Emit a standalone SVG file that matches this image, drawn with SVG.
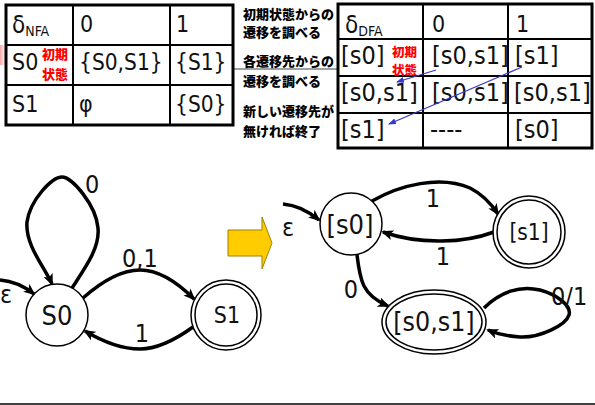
<svg xmlns="http://www.w3.org/2000/svg" width="595" height="405" viewBox="0 0 595 405">
<style>
.t{font-family:"DejaVu Sans Condensed","DejaVu Sans",sans-serif;font-stretch:condensed;fill:#111}
.jp{font-family:"Noto Sans CJK JP",sans-serif;font-weight:900;font-size:13px;fill:#000}
.red{font-family:"Noto Sans CJK JP",sans-serif;font-weight:900;fill:#ff0000}
.frame{fill:none;stroke:#000;stroke-width:3}
.grid{stroke:#000;stroke-width:2}
.node{fill:#fff;stroke:#000;stroke-width:1.5}
.edge{fill:none;stroke:#000;stroke-width:3.5;marker-end:url(#ah)}
.blue{fill:none;stroke:#3838cc;stroke-width:1.2;marker-end:url(#bh)}
</style>
<defs>
<marker id="ah" viewBox="0 0 12 10" refX="10" refY="5" markerWidth="12" markerHeight="10" markerUnits="userSpaceOnUse" orient="auto">
<path d="M0,0 L12,5 L0,10 L3,5 z" fill="#000"/>
</marker>
<marker id="bh" viewBox="0 0 8 6" refX="7" refY="3" markerWidth="8" markerHeight="6" markerUnits="userSpaceOnUse" orient="auto">
<path d="M0,0 L8,3 L0,6 z" fill="#3838cc"/>
</marker>
<linearGradient id="pink" x1="0" y1="0" x2="1" y2="0">
<stop offset="0" stop-color="#f4a4a4"/>
<stop offset="1" stop-color="#ffffff" stop-opacity="0"/>
</linearGradient>
</defs>
<rect width="595" height="405" fill="#fff"/>
<rect x="0" y="45" width="9" height="20" fill="url(#pink)"/>
<line x1="233" y1="69" x2="338" y2="69" stroke="#a0a0a0" stroke-width="2"/>

<g id="nfa-table">
<line class="grid" x1="73" y1="5" x2="73" y2="125"/>
<line class="grid" x1="170" y1="5" x2="170" y2="125"/>
<line class="grid" x1="6" y1="45" x2="233" y2="45"/>
<line class="grid" x1="6" y1="85" x2="233" y2="85"/>
<rect class="frame" x="6" y="5" width="227" height="120"/>
<text class="t" x="12" y="33" font-size="24">δ<tspan font-size="14" dy="3">NFA</tspan></text>
<text class="t" x="80" y="32" font-size="23">0</text>
<text class="t" x="176" y="32" font-size="23">1</text>
<text class="t" x="12" y="70" font-size="23">S0</text>
<text class="red" x="42" y="59" font-size="13">初期</text>
<text class="red" x="42" y="79" font-size="13">状態</text>
<text class="t" x="79" y="70" font-size="22.5">{S0,S1}</text>
<text class="t" x="175" y="70" font-size="22.5">{S1}</text>
<text class="t" x="12" y="112" font-size="23">S1</text>
<text class="t" x="79" y="112" font-size="23">φ</text>
<text class="t" x="175" y="112" font-size="22.5">{S0}</text>
</g>

<g id="notes">
<text class="jp" x="243" y="19">初期状態からの</text>
<text class="jp" x="243" y="37">遷移を調べる</text>
<text class="jp" x="243" y="66">各遷移先からの</text>
<text class="jp" x="243" y="86">遷移を調べる</text>
<text class="jp" x="243" y="116">新しい遷移先が</text>
<text class="jp" x="243" y="136">無ければ終了</text>
</g>

<g id="dfa-table">
<line class="grid" x1="423" y1="4" x2="423" y2="148"/>
<line class="grid" x1="508" y1="4" x2="508" y2="148"/>
<line class="grid" x1="338" y1="39" x2="592" y2="39"/>
<line class="grid" x1="338" y1="76" x2="592" y2="76"/>
<line class="grid" x1="338" y1="113" x2="592" y2="113"/>
<rect class="frame" x="338" y="4" width="254" height="144"/>
<text class="t" x="345" y="33" font-size="24">δ<tspan font-size="14" dy="3">DFA</tspan></text>
<text class="t" x="432" y="32" font-size="23">0</text>
<text class="t" x="516" y="32" font-size="23">1</text>
<text class="t" x="341" y="64" font-size="25">[s0]</text>
<text class="red" x="392" y="57" font-size="12.5">初期</text>
<text class="red" x="392" y="75" font-size="12.5">状態</text>
<text class="t" x="432" y="64" font-size="25">[s0,s1]</text>
<text class="t" x="515" y="64" font-size="25">[s1]</text>
<text class="t" x="341" y="101" font-size="25">[s0,s1]</text>
<text class="t" x="432" y="101" font-size="25">[s0,s1]</text>
<text class="t" x="514" y="101" font-size="25">[s0,s1]</text>
<text class="t" x="341" y="138" font-size="25">[s1]</text>
<text class="t" x="430" y="138" font-size="25">----</text>
<text class="t" x="515" y="138" font-size="25">[s0]</text>
<path class="blue" d="M436,70 L397,82"/>
<path class="blue" d="M522,67 L389,124"/>
</g>

<g id="convert-arrow">
<polygon points="228,230 262,230 262,217 272,243 262,269 262,256 228,256" fill="#ffcc00" stroke="#a08000" stroke-width="1"/>
</g>

<g id="connectors">
<path class="edge" d="M0,280 C12,281 24,286 34,294"/>
<path class="edge" d="M72,288 C85,268 100,248 98,228 C96,205 72,177 62,177 C52,177 30,200 27,222 C25,245 45,268 52,284"/>
<path class="edge" d="M83,298 C100,283 120,270 140,270 C160,270 180,285 194,299"/>
<path class="edge" d="M193,327 C175,340 158,349 140,349 C120,349 100,340 85,331"/>
<path class="edge" d="M283,204 C295,205 307,210 319,220"/>
<path class="edge" d="M372,201 C400,185 440,175 470,188 C482,194 490,202 498,214"/>
<path class="edge" d="M494,232 C465,243 420,245 383,232"/>
<path class="edge" d="M357,255 C360,280 362,295 388,306"/>
<path class="edge" d="M484,308 C500,292 520,285 540,290 C555,294 572,305 569,315 C566,325 540,338 520,337 C505,336 495,333 488,330"/>
<text class="t" x="0" y="303" font-size="25">ε</text>
<text class="t" x="85" y="193" font-size="25">0</text>
<text class="t" x="122" y="267" font-size="25">0,1</text>
<text class="t" x="142" y="342" font-size="25" text-anchor="middle">1</text>
<text class="t" x="282" y="236" font-size="25">ε</text>
<text class="t" x="433" y="207" font-size="25" text-anchor="middle">1</text>
<text class="t" x="443" y="265" font-size="25" text-anchor="middle">1</text>
<text class="t" x="351" y="298" font-size="25" text-anchor="middle">0</text>
<text class="t" x="551" y="305" font-size="25">0/1</text>
</g>

<g id="nfa-S0">
<circle class="node" cx="57" cy="315" r="31"/>
<text class="t" x="57" y="325" font-size="27" text-anchor="middle">S0</text>
</g>
<g id="nfa-S1">
<circle class="node" cx="226" cy="315" r="35"/>
<circle class="node" cx="226" cy="315" r="31"/>
<text class="t" x="227" y="323" font-size="23" text-anchor="middle">S1</text>
</g>
<g id="dfa-s0">
<circle class="node" cx="351" cy="224" r="31"/>
<text class="t" x="350" y="234" font-size="27" text-anchor="middle">[s0]</text>
</g>
<g id="dfa-s1">
<circle class="node" cx="529" cy="232" r="36"/>
<circle class="node" cx="529" cy="232" r="32"/>
<text class="t" x="529" y="240" font-size="22.5" text-anchor="middle">[s1]</text>
</g>
<g id="dfa-s0s1">
<ellipse class="node" cx="434" cy="322" rx="52" ry="32"/>
<ellipse class="node" cx="434" cy="322" rx="48" ry="28"/>
<text class="t" x="434" y="331" font-size="26.5" text-anchor="middle">[s0,s1]</text>
</g>

<line x1="0" y1="404" x2="595" y2="404" stroke="#404040" stroke-width="2"/>
</svg>
